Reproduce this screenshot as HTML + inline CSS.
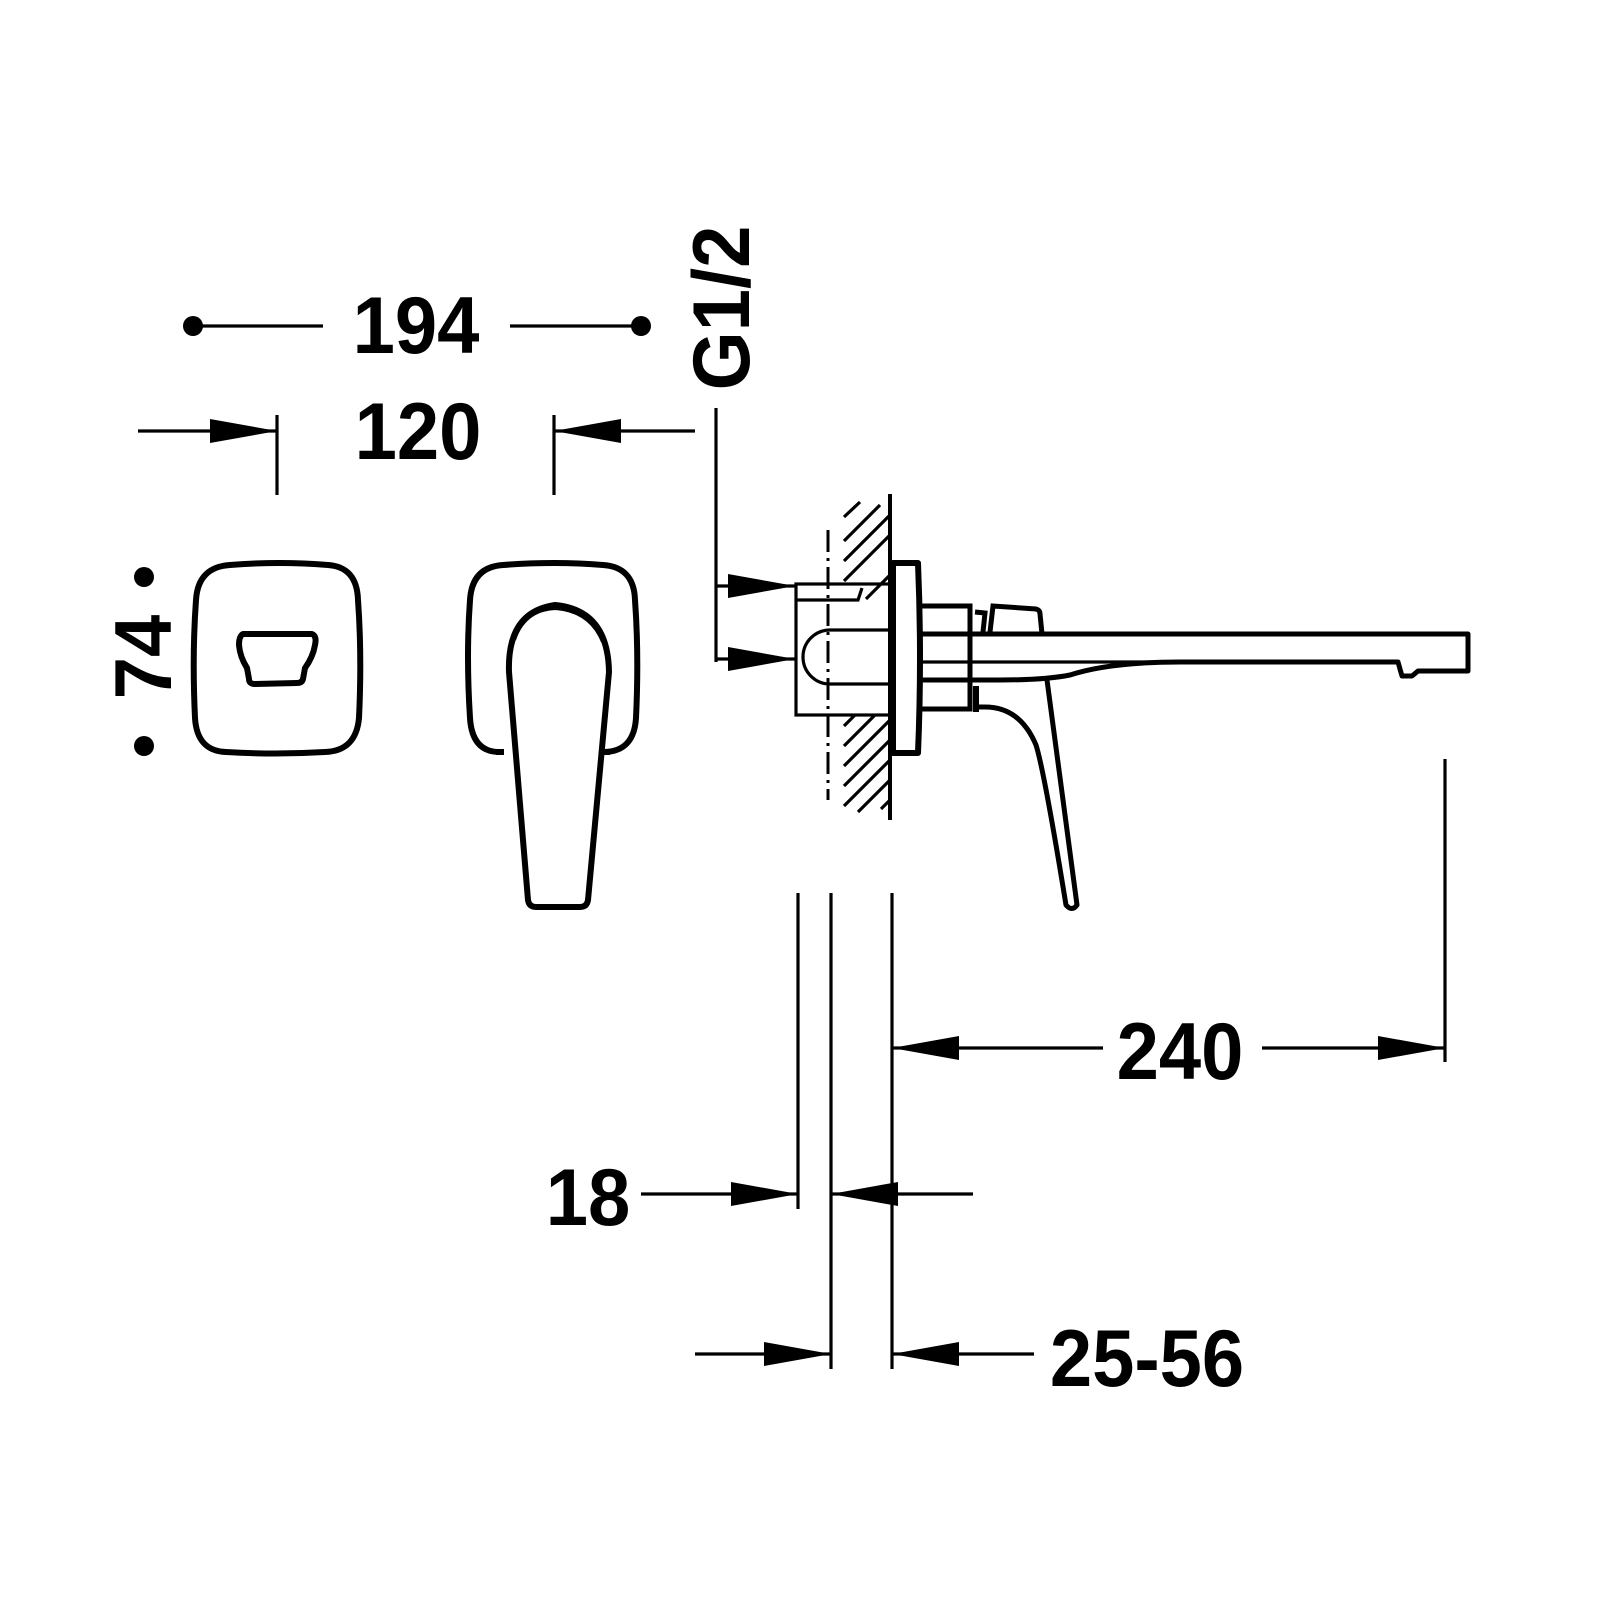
<!DOCTYPE html>
<html><head><meta charset="utf-8"><style>html,body{margin:0;padding:0;background:#fff}svg{display:block}</style></head>
<body>
<svg width="1600" height="1600" viewBox="0 0 1600 1600" xmlns="http://www.w3.org/2000/svg">
<defs>
<marker id="a" viewBox="0 0 67 24" refX="67" refY="12" markerWidth="67" markerHeight="24" markerUnits="userSpaceOnUse" orient="auto"><path d="M0,0 L67,12 L0,24 Z" fill="#000"/></marker>
</defs>
<g font-family="Liberation Sans, Arial, sans-serif" font-weight="bold" font-size="76" fill="#000" text-anchor="middle">
<text transform="translate(416,353) scale(1,1.06)">194</text>
<text transform="translate(418,459) scale(1,1.06)">120</text>
<text transform="translate(1180,1079) scale(1,1.06)">240</text>
<text transform="translate(588,1225) scale(1,1.06)">18</text>
<text transform="translate(1147,1386) scale(1,1.06)">25-56</text>
<text transform="translate(171,657) rotate(-90) scale(1,1.06)">74</text>
<text transform="translate(749,308) rotate(-90) scale(1,1.06)">G1/2</text>
</g>
<g stroke="#000" stroke-width="3.2" fill="none">
<line x1="195" y1="326" x2="323" y2="326"/><line x1="510" y1="326" x2="641" y2="326"/>
<line x1="138" y1="431" x2="277" y2="431" marker-end="url(#a)"/>
<line x1="277" y1="415" x2="277" y2="495"/>
<line x1="695" y1="431" x2="554" y2="431" marker-end="url(#a)"/>
<line x1="554" y1="415" x2="554" y2="495"/>
<line x1="716" y1="408" x2="716" y2="662"/>
<line x1="716" y1="586" x2="795" y2="586" marker-end="url(#a)"/>
<line x1="716" y1="659" x2="795" y2="659" marker-end="url(#a)"/>
<line x1="798" y1="893" x2="798" y2="1209"/>
<line x1="831" y1="893" x2="831" y2="1369"/>
<line x1="892" y1="893" x2="892" y2="1369"/>
<line x1="1445" y1="759" x2="1445" y2="1062"/>
<line x1="1103" y1="1048" x2="892" y2="1048" marker-end="url(#a)"/>
<line x1="1262" y1="1048" x2="1445" y2="1048" marker-end="url(#a)"/>
<line x1="641" y1="1194" x2="798" y2="1194" marker-end="url(#a)"/>
<line x1="973" y1="1194" x2="831" y2="1194" marker-end="url(#a)"/>
<line x1="695" y1="1354" x2="831" y2="1354" marker-end="url(#a)"/>
<line x1="1034" y1="1354" x2="892" y2="1354" marker-end="url(#a)"/>
</g>
<g fill="#000">
<circle cx="193" cy="326" r="10"/><circle cx="641" cy="326" r="10"/>
<circle cx="144" cy="577" r="10"/><circle cx="144" cy="746" r="10"/>
</g>
<g stroke="#000" stroke-width="6" fill="none" stroke-linejoin="round">
<path d="M230,565 Q280,561 328,565 Q357,567 358,600 Q362,655 359,718 Q356,751 325,752 Q275,755 226,752 Q197,751 195,718 Q192,655 196,600 Q198,567 230,565 Z"/>
<path d="M243,634 L312,634 Q317,636 315,645 Q313,657 305,668 L303,679 Q302,683 297,683 L255,684 Q249,684 249,679 L247,668 Q240,657 239,645 Q239,636 243,634 Z"/>
<path d="M496,752 L504,752 M602,752 L610,752"/>
<path d="M498,752 Q472,751 470,718 Q466,655 470,600 Q472,567 503,565 Q555,561 603,565 Q634,567 635,600 Q639,655 636,718 Q634,751 605,752"/>
<path d="M509,672 Q507,612 555,605 Q608,610 609,672 L588,900 Q587,907 580,907 L536,907 Q529,907 528,900 Z"/>
<path d="M515,640 Q525,610 556,609 Q590,612 602,642" stroke-width="2"/>
</g>
<g stroke="#000" fill="none">
<line x1="890" y1="494" x2="890" y2="820" stroke-width="4"/>
<line x1="828" y1="530" x2="828" y2="800" stroke-width="3" stroke-dasharray="22,6,3,6"/>
<g stroke-width="3.2">
<line x1="844" y1="517" x2="860" y2="502"/>
<line x1="844" y1="541" x2="880" y2="505"/>
<line x1="844" y1="561" x2="890" y2="515"/>
<line x1="844" y1="581" x2="890" y2="535"/>
<line x1="866" y1="599" x2="890" y2="575"/>
<line x1="844" y1="726" x2="855" y2="715"/>
<line x1="844" y1="746" x2="875" y2="715"/>
<line x1="844" y1="766" x2="890" y2="720"/>
<line x1="844" y1="786" x2="890" y2="740"/>
<line x1="844" y1="806" x2="890" y2="760"/>
<line x1="858" y1="812" x2="890" y2="780"/>
<line x1="881" y1="809" x2="890" y2="800"/>
</g>
<g stroke-width="3.2">
<rect x="796" y="584" width="94" height="131"/>
<path d="M796,600 L858,600 L862,588"/>
<path d="M890,630 L830,630 A27,27 0 0 0 830,684 L890,684"/>
</g>
<path d="M893,563 L918,563 Q922,658 918,753 L893,753 Z" stroke-width="6" stroke-linejoin="round"/>
<path d="M920,606 L970,606 L970,709 L920,709" stroke-width="5"/>
<path d="M920,634 L1468,634 L1468,671 L1418,671 L1412,676 L1402,676 L1398,662 L1180,662 Q1110,662 1070,675 Q1045,680 1000,680 L920,680" stroke-width="5" stroke-linejoin="round"/>
<path d="M920,662 L1180,662" stroke-width="3.2"/>
<path d="M975,612 L985,613 L983,632 M990,632 L993,606 L1036,609 Q1040,610 1040,614 L1042,634" stroke-width="5"/>
<path d="M975,707 L985,707 Q1020,707 1036,745 Q1044,770 1066,905 Q1072,912 1077,905 L1047,680" stroke-width="5" stroke-linejoin="round"/>
<line x1="976" y1="686" x2="976" y2="712" stroke-width="6"/>
</g>
</svg>
</body></html>
